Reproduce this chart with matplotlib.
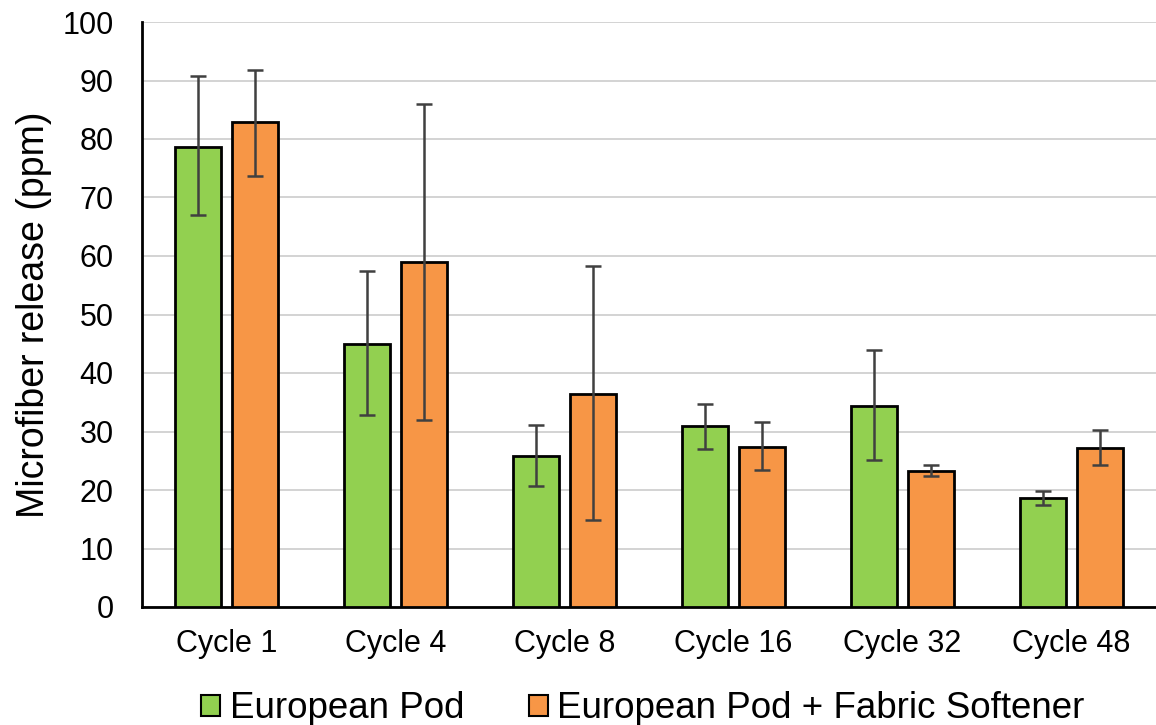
import matplotlib
matplotlib.use("Agg")
import matplotlib.pyplot as plt
import numpy as np

plt.rcParams['font.family'] = ['Liberation Sans', 'DejaVu Sans']

categories = ["Cycle 1", "Cycle 4", "Cycle 8", "Cycle 16", "Cycle 32", "Cycle 48"]
series_names = ["European Pod", "European Pod + Fabric Softener"]
pod_vals = [78.6, 45.0, 25.8, 30.9, 34.4, 18.6]
pod_hi = [90.8, 57.4, 31.1, 34.7, 43.9, 19.8]
pod_lo = [67.0, 32.8, 20.7, 27.0, 25.1, 17.4]
soft_vals = [82.9, 59.0, 36.4, 27.4, 23.2, 27.2]
soft_hi = [91.8, 86.0, 58.3, 31.6, 24.3, 30.3]
soft_lo = [73.7, 32.0, 14.9, 23.4, 22.4, 24.3]

fig = plt.figure(figsize=(11.56, 7.25), dpi=100)
ax = fig.add_axes([142/1156, 1-607/725, (1156-142)/1156, (607-22)/725])

x = np.arange(len(categories))
w = 0.27
off = 0.17
colors = ["#92D050", "#F79646"]
for vals, hi, lo, sgn, col, name in [
    (pod_vals, pod_hi, pod_lo, -1, colors[0], series_names[0]),
    (soft_vals, soft_hi, soft_lo, 1, colors[1], series_names[1]),
]:
    vals = np.array(vals); hi = np.array(hi); lo = np.array(lo)
    ax.bar(x + sgn*off, vals, width=w, color=col, edgecolor="black", linewidth=2, label=name, zorder=3)
    ax.errorbar(x + sgn*off, vals, yerr=[vals-lo, hi-vals], fmt="none", ecolor="#404040",
                elinewidth=1.8, capsize=6, capthick=1.8, zorder=4)

ax.set_xlim(-0.5, len(categories)-0.5)
ax.set_ylim(0, 100)
ax.set_yticks(np.arange(0, 101, 10))
ax.set_xticks(x)
ax.set_xticklabels(categories, fontsize=22)
ax.tick_params(axis='y', labelsize=22, length=0, pad=20.5)
ax.tick_params(axis='x', length=0, pad=16)
ax.yaxis.grid(True, color="#D0D0D0", linewidth=1.3, zorder=0)
ax.set_axisbelow(True)
for s in ["top", "right"]:
    ax.spines[s].set_visible(False)
ax.spines["left"].set_linewidth(2)
ax.spines["bottom"].set_linewidth(2)
ax.set_ylabel("Microfiber release (ppm)", fontsize=27)
ax.yaxis.set_label_coords(-(142-52)/1014, 0.5)

leg = fig.legend(loc="center", bbox_to_anchor=(0.556, 1-709/725), ncol=2, frameon=False,
                 fontsize=26.5, handlelength=0.52, handleheight=0.52, handletextpad=0.25,
                 columnspacing=1.75, borderpad=0, borderaxespad=0)
for h in leg.legend_handles:
    h.set_linewidth(1.5)

fig.savefig("out.png", dpi=100)
